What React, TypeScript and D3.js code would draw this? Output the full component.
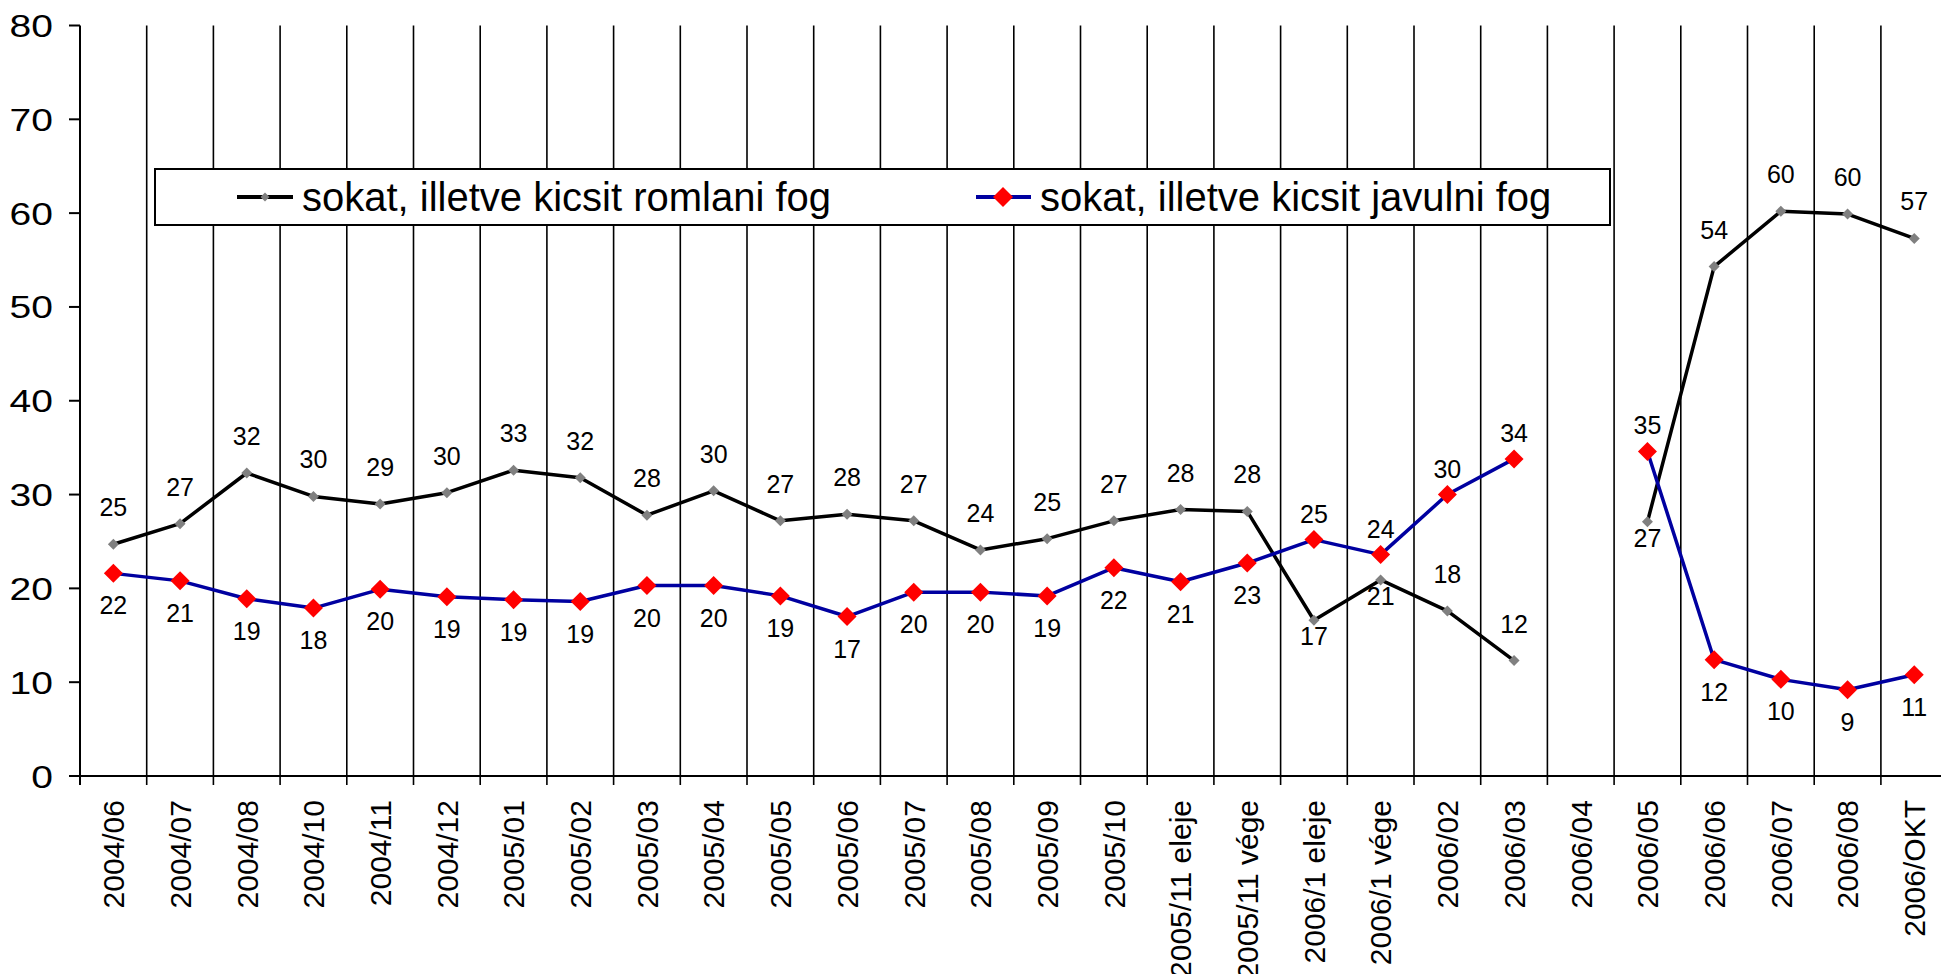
import React from "react";
import * as d3 from "d3";

const categories = [
  "2004/06", "2004/07", "2004/08", "2004/10", "2004/11", "2004/12",
  "2005/01", "2005/02", "2005/03", "2005/04", "2005/05", "2005/06",
  "2005/07", "2005/08", "2005/09", "2005/10", "2005/11 eleje", "2005/11 vége",
  "2006/1 eleje", "2006/1 vége", "2006/02", "2006/03", "2006/04", "2006/05",
  "2006/06", "2006/07", "2006/08", "2006/OKT",
];

const romlani: (number | null)[] = [
  24.7, 26.9, 32.3, 29.8, 29.0, 30.2, 32.6, 31.8, 27.8, 30.4, 27.2, 27.9,
  27.2, 24.1, 25.3, 27.2, 28.4, 28.2, 16.6, 20.9, 17.6, 12.3, null, 27.1,
  54.3, 60.2, 59.9, 57.3,
];

const javulni: (number | null)[] = [
  21.6, 20.8, 18.9, 17.9, 19.9, 19.1, 18.8, 18.6, 20.3, 20.3, 19.2, 17.0,
  19.6, 19.6, 19.2, 22.2, 20.7, 22.7, 25.2, 23.6, 30.0, 33.8, null, 34.6,
  12.4, 10.3, 9.2, 10.8,
];

// label placement: a = above, b = below
const romlaniLabelPos = [
  "a", "a", "a", "a", "a", "a", "a", "a", "a", "a", "a", "a", "a", "a",
  "a", "a", "a", "a", "b", "b", "a", "a", "a", "b", "a", "a", "a", "a",
];
const javulniLabelPos = [
  "b", "b", "b", "b", "b", "b", "b", "b", "b", "b", "b", "b", "b", "b",
  "b", "b", "b", "b", "a", "a", "a", "a", "b", "a", "b", "b", "b", "b",
];

const yTicks = [0, 10, 20, 30, 40, 50, 60, 70, 80];

const seriesNames = [
  "sokat, illetve kicsit romlani fog",
  "sokat, illetve kicsit javulni fog",
];

const W = 1941;
const H = 974;
const FONT = "'Liberation Sans', Arial, Helvetica, sans-serif";

export default function App() {
  const x = d3
    .scaleBand<string>()
    .domain(categories)
    .range([80, 1947.6])
    .paddingInner(0)
    .paddingOuter(0);
  const y = d3.scaleLinear().domain([0, 80]).range([776, 25.5]);
  const cx = (i: number) => (x(categories[i]) as number) + x.bandwidth() / 2;

  const line = d3
    .line<number | null>()
    .defined((d) => d !== null)
    .x((_, i) => cx(i))
    .y((d) => y(d as number));

  const diamond = (w: number) =>
    d3.symbol().type(d3.symbolSquare).size((w * w) / 2)() as string;

  const boundaries = d3.range(0, categories.length + 1).map((i) =>
    i < categories.length ? (x(categories[i]) as number) : x.range()[1]
  );

  const yTop = y(80);
  const yBase = y(0);

  return (
    <svg
      width={W}
      height={H}
      style={{ position: "absolute", left: 0, top: 0, background: "#fff" }}
      fontFamily={FONT}
    >
      <rect x={0} y={0} width={W} height={H} fill="#fff" />
      {/* vertical category gridlines incl. ticks below axis */}
      {boundaries.map((bx, i) => (
        <line
          key={"g" + i}
          x1={bx}
          x2={bx}
          y1={yTop}
          y2={yBase + 9}
          stroke="#000"
          strokeWidth={i === 0 ? 2 : 1.6}
        />
      ))}
      {/* y ticks */}
      {yTicks.map((t) => (
        <g key={"yt" + t}>
          <line x1={69} x2={80} y1={y(t)} y2={y(t)} stroke="#000" strokeWidth={2} />
          <text
            x={53}
            y={y(t)}
            dy="0.36em"
            textAnchor="end"
            fontSize={32}
            fill="#000"
            transform={`translate(53 0) scale(1.22 1) translate(-53 0)`}
          >
            {t}
          </text>
        </g>
      ))}
      {/* x axis */}
      <line x1={69} x2={W} y1={yBase} y2={yBase} stroke="#000" strokeWidth={2} />
      {categories.map((c, i) => (
        <text
          key={"xl" + i}
          transform={`translate(${cx(i)},800) rotate(-90)`}
          textAnchor="end"
          dy="0.36em"
          fontSize={30}
          fill="#000"
        >
          {c}
        </text>
      ))}

      {/* legend */}
      <rect x={155} y={169} width={1455} height={56} fill="#fff" stroke="#000" strokeWidth={2} />
      <line x1={237} x2={293} y1={197} y2={197} stroke="#000" strokeWidth={4} />
      <path d={diamond(9)} transform="translate(265,197) rotate(45)" fill="#808080" />
      <text x={302} y={211} fontSize={40} fill="#000">
        {seriesNames[0]}
      </text>
      <line x1={976} x2={1031} y1={197} y2={197} stroke="#0000a0" strokeWidth={4} />
      <path d={diamond(20)} transform="translate(1003,197) rotate(45)" fill="#ff0000" />
      <text x={1040} y={211} fontSize={40} fill="#000">
        {seriesNames[1]}
      </text>

      {/* series 1 */}
      <path d={line(romlani) as string} fill="none" stroke="#000" strokeWidth={3.5} strokeLinejoin="round" />
      {romlani.map((v, i) =>
        v === null ? null : (
          <path
            key={"m1" + i}
            d={diamond(11)}
            transform={`translate(${cx(i)},${y(v)}) rotate(45)`}
            fill="#808080"
          />
        )
      )}
      {/* series 2 */}
      <path d={line(javulni) as string} fill="none" stroke="#0000a0" strokeWidth={3.5} strokeLinejoin="round" />
      {javulni.map((v, i) =>
        v === null ? null : (
          <path
            key={"m2" + i}
            d={diamond(19)}
            transform={`translate(${cx(i)},${y(v)}) rotate(45)`}
            fill="#ff0000"
          />
        )
      )}

      {/* data labels */}
      {romlani.map((v, i) =>
        v === null ? null : (
          <text
            key={"l1" + i}
            x={cx(i)}
            y={y(v) + (romlaniLabelPos[i] === "a" ? -28 : 25)}
            textAnchor="middle"
            fontSize={25}
            fill="#000"
          >
            {Math.round(v)}
          </text>
        )
      )}
      {javulni.map((v, i) =>
        v === null ? null : (
          <text
            key={"l2" + i}
            x={cx(i)}
            y={y(v) + (javulniLabelPos[i] === "a" ? -17 : 41)}
            textAnchor="middle"
            fontSize={25}
            fill="#000"
          >
            {Math.round(v)}
          </text>
        )
      )}
    </svg>
  );
}
